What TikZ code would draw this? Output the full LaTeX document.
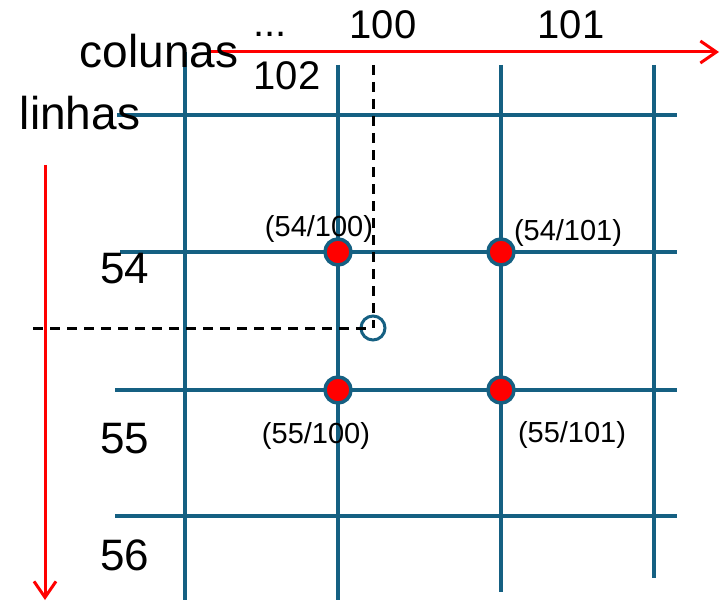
\documentclass[tikz,border=0pt]{standalone}
\usepackage{fontspec}
\setmainfont{Liberation Sans}
\usetikzlibrary{arrows.meta}
\definecolor{gridblue}{HTML}{156082}
\definecolor{arrowred}{HTML}{FF0000}
\tikzset{
  gridline/.style={draw=gridblue, line width=3.05bp},
  redarrow/.style={draw=arrowred, line width=3bp, -{Straight Barb[length=16bp,width=22bp,line width=3bp]}},
  guide/.style={draw=black, line width=3bp, dash pattern=on 10bp off 7bp},
  gridpt/.style={circle, draw=gridblue, fill=arrowred, line width=3.5bp, minimum size=26bp, inner sep=0pt},
  querypt/.style={circle, draw=gridblue, fill=none, line width=3bp, minimum size=24bp, inner sep=0pt},
  bigtxt/.style={inner sep=0pt, anchor=base, font=\fontsize{46bp}{50bp}\selectfont},
  numtxt/.style={inner sep=0pt, anchor=base, font=\fontsize{40bp}{46bp}\selectfont},
  sidetxt/.style={inner sep=0pt, anchor=base, font=\fontsize{44bp}{48bp}\selectfont},
  lbltxt/.style={inner sep=0pt, anchor=base, font=\fontsize{29bp}{34bp}\selectfont},
}
\begin{document}
\begin{tikzpicture}[x=1bp, y=-1bp]
\useasboundingbox (0,0) rectangle (721,602);
% grid lines
\draw[gridline] (185,52) -- (185,600);
\draw[gridline] (338,65) -- (338,600);
\draw[gridline] (501,65) -- (501,592);
\draw[gridline] (654,65) -- (654,578);
\draw[gridline] (117,115) -- (677,115);
\draw[gridline] (120,252) -- (677,252);
\draw[gridline] (115,390) -- (677,390);
\draw[gridline] (115,516) -- (677,516);
% axis arrows
\coordinate (cs) at (210,52);
\coordinate (ce) at (719,52);
\coordinate (ls) at (45,165);
\coordinate (le) at (45,600);
\draw[redarrow] (cs) -- (ce);
\draw[redarrow] (ls) -- (le);
% query point and guides
\node[querypt] (q) at (373,328) {};
\coordinate (gv) at (373,65);
\coordinate (gh) at (33,328);
\draw[guide] (gv) -- (q.center);
\draw[guide] (gh) -- (q.center);
% grid points
\node[gridpt] (p54a) at (338,252) {};
\node[gridpt] (p54b) at (501,252) {};
\node[gridpt] (p55a) at (338,390) {};
\node[gridpt] (p55b) at (501,390) {};
% texts
\node[bigtxt] (tcol) at (159,68) {colunas};
\node[bigtxt] (tlin) at (80,130) {linhas};
\node[numtxt] (tdots) at (270,37) {...};
\node[numtxt] (t100) at (383,39) {100};
\node[numtxt] (t101) at (571,39) {101};
\node[numtxt] (t102) at (287,90) {102};
\node[sidetxt] (t54) at (125,283) {54};
\node[sidetxt] (t55) at (125,453) {55};
\node[sidetxt] (t56) at (125,570) {56};
\node[lbltxt] (l1) at (319,236) {(54/100)};
\node[lbltxt] (l2) at (568,240) {(54/101)};
\node[lbltxt] (l3) at (316,443) {(55/100)};
\node[lbltxt] (l4) at (572,442) {(55/101)};
\end{tikzpicture}
\end{document}
